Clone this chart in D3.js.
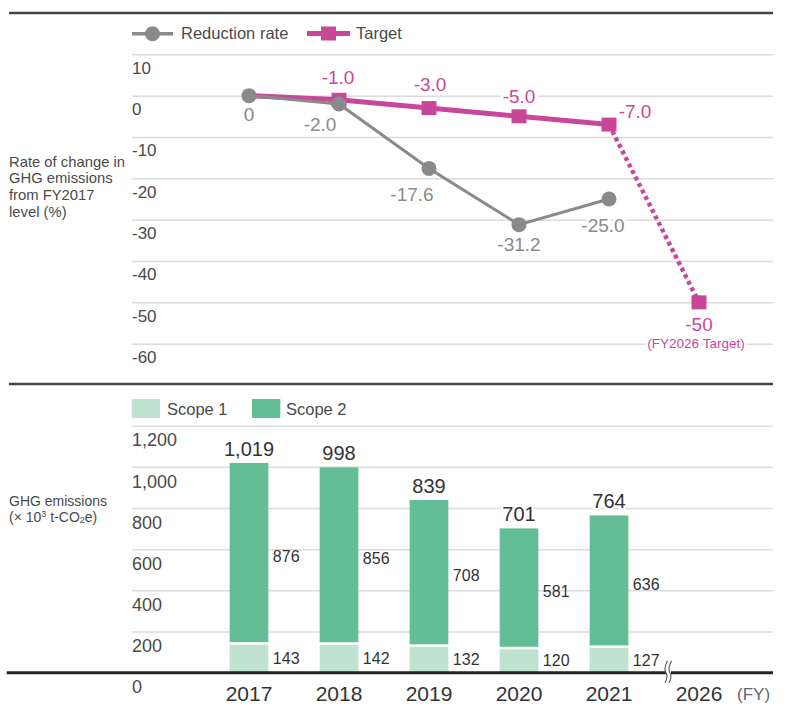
<!DOCTYPE html>
<html><head><meta charset="utf-8">
<script src="https://cdn.jsdelivr.net/npm/d3@7"></script>
<style>
body{margin:0;background:#fff}
text{font-family:"Liberation Sans",Arial,Helvetica,sans-serif}
</style>
</head><body>
<svg id="chart" width="788" height="720"></svg>
<script>
// ---------- DATA ----------
const years = ["2017","2018","2019","2020","2021","2026"];
const rateYears = ["2017","2018","2019","2020","2021"];
const reductionRate = [0, -2.0, -17.6, -31.2, -25.0];
const reductionLabels = ["0","-2.0","-17.6","-31.2","-25.0"];
const targetYears = ["2017","2018","2019","2020","2021"];
const targetRate = [0, -1.0, -3.0, -5.0, -7.0];
const targetLabels = ["", "-1.0", "-3.0", "-5.0", "-7.0"];
const finalTargetYear = "2026";
const finalTargetRate = -50;
const finalTargetLabel = "-50";
const finalTargetNote = "(FY2026 Target)";
const rateTicks = [10, 0, -10, -20, -30, -40, -50, -60];

const barYears = ["2017","2018","2019","2020","2021"];
const scope1 = [143, 142, 132, 120, 127];
const scope2 = [876, 856, 708, 581, 636];
const totals = [1019, 998, 839, 701, 764];
const emissionTicks = [0, 200, 400, 600, 800, 1000, 1200];

// ---------- LAYOUT ----------
const GRAY = "#8a8a8a", PINK = "#c9479b", S1 = "#bfe3d0", S2 = "#63be96";
const TXT = "#4a4a4a";
const gx0 = 132, gx1 = 773;
const redOff = [[0,19],[-19,20],[-17,26],[0,20],[-6,26]];
const tgtOff = [[0,0],[-1,-22.5],[1,-24],[0,-20],[26,-13]];

const svg = d3.select("#chart");
const x = d3.scalePoint().domain(years).range([249, 699]);
const yR = d3.scaleLinear().domain([10, -60]).range([54.3, 343.7]);
const yE = d3.scaleLinear().domain([0, 1200]).range([672.7, 425.7]);

function halo(sel, w){ return sel.attr("stroke","#fff").attr("stroke-width", w||6)
  .attr("stroke-linejoin","round").attr("paint-order","stroke"); }

// frame lines
svg.append("line").attr("x1",9).attr("x2",773).attr("y1",13).attr("y2",13)
  .attr("stroke","#444").attr("stroke-width",2.7);
svg.append("line").attr("x1",9).attr("x2",773).attr("y1",384).attr("y2",384)
  .attr("stroke","#444").attr("stroke-width",2.5);

// ---------- TOP CHART ----------
const ga = svg.append("g").attr("transform",`translate(${gx0},0)`)
  .call(d3.axisRight(yR).tickValues(rateTicks).tickSize(gx1-gx0).tickFormat(d=>String(d)));
ga.select(".domain").remove();
ga.selectAll(".tick line").attr("stroke","#dcdcdc").attr("stroke-width",1.5);
ga.selectAll(".tick text").attr("x",0).attr("y",13).attr("dy","0.35em")
  .attr("text-anchor","start").attr("fill",TXT).attr("font-size",17)
  .attr("font-family","'Liberation Sans',Arial,sans-serif");

// y title
const t1 = svg.append("text").attr("font-size",14.8).attr("fill",TXT);
["Rate of change in","GHG emissions","from FY2017","level (%)"].forEach((s,i)=>{
  t1.append("tspan").attr("x",9).attr("y",166.5+i*16.7).text(s);
});

// legend top
svg.append("line").attr("x1",132).attr("x2",173).attr("y1",33.7).attr("y2",33.7)
  .attr("stroke",GRAY).attr("stroke-width",3.5);
svg.append("circle").attr("cx",152.5).attr("cy",33.7).attr("r",7.5).attr("fill",GRAY);
svg.append("text").attr("x",181).attr("y",33.7).attr("dy","0.35em").attr("font-size",16.5)
  .attr("fill",TXT).text("Reduction rate");
svg.append("line").attr("x1",307).attr("x2",350).attr("y1",33.5).attr("y2",33.5)
  .attr("stroke",PINK).attr("stroke-width",5);
svg.append("rect").attr("x",321).attr("y",26.5).attr("width",15).attr("height",14).attr("fill",PINK);
svg.append("text").attr("x",356).attr("y",33.7).attr("dy","0.35em").attr("font-size",16.5)
  .attr("fill",TXT).text("Target");

// target line
const tgt = targetYears.map((yr,i)=>({yr, v:targetRate[i], lab:targetLabels[i], off:tgtOff[i]}));
const line = d3.line().x(d=>x(d.yr)).y(d=>yR(d.v));
svg.append("path").datum(tgt).attr("d",line).attr("fill","none")
  .attr("stroke",PINK).attr("stroke-width",5);
const fin = {yr:finalTargetYear, v:finalTargetRate};
svg.append("path").datum([tgt[tgt.length-1], fin]).attr("d",line).attr("fill","none")
  .attr("stroke",PINK).attr("stroke-width",4.5).attr("stroke-dasharray","4,3.3");
svg.selectAll("rect.tgt").data(tgt.slice(1).concat([fin])).enter().append("rect")
  .attr("class","tgt").attr("x",d=>x(d.yr)-7.5).attr("y",d=>yR(d.v)-7)
  .attr("width",15).attr("height",14).attr("fill",PINK);

// reduction line
const red = rateYears.map((yr,i)=>({yr, v:reductionRate[i], lab:reductionLabels[i], off:redOff[i]}));
svg.append("path").datum(red).attr("d",line).attr("fill","none")
  .attr("stroke",GRAY).attr("stroke-width",3);
svg.selectAll("circle.red").data(red).enter().append("circle").attr("class","red")
  .attr("cx",d=>x(d.yr)).attr("cy",d=>yR(d.v)).attr("r",7.5).attr("fill",GRAY);

// labels
svg.selectAll("text.redl").data(red).enter().append("text").attr("class","redl")
  .attr("x",d=>x(d.yr)+d.off[0]).attr("y",d=>yR(d.v)+d.off[1]).attr("dy","0.35em")
  .attr("text-anchor","middle").attr("font-size",19).attr("fill",GRAY)
  .text(d=>d.lab).call(halo);
svg.selectAll("text.tgtl").data(tgt.filter(d=>d.lab)).enter().append("text").attr("class","tgtl")
  .attr("x",d=>x(d.yr)+d.off[0]).attr("y",d=>yR(d.v)+d.off[1]).attr("dy","0.35em")
  .attr("text-anchor","middle").attr("font-size",19).attr("fill",PINK)
  .text(d=>d.lab).call(halo);
svg.append("text").attr("x",x(fin.yr)).attr("y",yR(fin.v)+22).attr("dy","0.35em")
  .attr("text-anchor","middle").attr("font-size",19).attr("fill",PINK).text(finalTargetLabel).call(halo);
svg.append("text").attr("x",x(fin.yr)-3).attr("y",yR(-60)).attr("dy","0.35em")
  .attr("text-anchor","middle").attr("font-size",13.5).attr("fill",PINK).text(finalTargetNote).call(halo,5);

// ---------- BOTTOM CHART ----------
const gb = svg.append("g").attr("transform",`translate(${gx0},0)`)
  .call(d3.axisRight(yE).tickValues(emissionTicks).tickSize(gx1-gx0).tickFormat(d3.format(",")));
gb.select(".domain").remove();
gb.selectAll(".tick line").attr("stroke","#dcdcdc").attr("stroke-width",1.5);
gb.selectAll(".tick text").attr("x",0).attr("y",14).attr("dy","0.35em")
  .attr("text-anchor","start").attr("fill",TXT).attr("font-size",18)
  .attr("font-family","'Liberation Sans',Arial,sans-serif");

const t2 = svg.append("text").attr("font-size",14).attr("fill",TXT);
t2.append("tspan").attr("x",9).attr("y",506).text("GHG emissions");
const l2 = svg.append("text").attr("font-size",14).attr("fill",TXT).attr("x",9).attr("y",522);
l2.append("tspan").text("(× 10");
l2.append("tspan").attr("font-size",9).attr("dy",-5).text("3");
l2.append("tspan").attr("dy",5).text(" t-CO");
l2.append("tspan").attr("font-size",9).attr("dy",1).text("2");
l2.append("tspan").attr("dy",-1).text("e)");

// legend bottom
svg.append("rect").attr("x",131.7).attr("y",399).attr("width",28.3).attr("height",19).attr("fill",S1);
svg.append("text").attr("x",167).attr("y",409).attr("dy","0.35em").attr("font-size",16.5).attr("fill",TXT).text("Scope 1");
svg.append("rect").attr("x",252).attr("y",399).attr("width",28.3).attr("height",19).attr("fill",S2);
svg.append("text").attr("x",286).attr("y",409).attr("dy","0.35em").attr("font-size",16.5).attr("fill",TXT).text("Scope 2");

const bw = 38.7;
const bars = barYears.map((yr,i)=>({yr, s1:scope1[i], s2:scope2[i], tot:totals[i]}));
const gbar = svg.append("g");
gbar.selectAll("rect.s1").data(bars).enter().append("rect").attr("class","s1")
  .attr("x",d=>x(d.yr)-bw/2).attr("width",bw)
  .attr("y",d=>yE(d.s1)+1.4).attr("height",d=>yE(0)-yE(d.s1)-1.4).attr("fill",S1);
gbar.selectAll("rect.s2").data(bars).enter().append("rect").attr("class","s2")
  .attr("x",d=>x(d.yr)-bw/2).attr("width",bw)
  .attr("y",d=>yE(d.tot)).attr("height",d=>yE(d.s1)-1.2-yE(d.tot)).attr("fill",S2);
gbar.selectAll("text.tot").data(bars).enter().append("text").attr("class","tot")
  .attr("x",d=>x(d.yr)).attr("y",d=>yE(d.tot)-14).attr("dy","0.35em")
  .attr("text-anchor","middle").attr("font-size",20).attr("fill","#333")
  .text(d=>d3.format(",")(d.tot)).call(halo,5);
gbar.selectAll("text.l2").data(bars).enter().append("text").attr("class","l2")
  .attr("x",d=>x(d.yr)+bw/2+4.5).attr("y",d=>(yE(d.tot)+yE(d.s1))/2+3).attr("dy","0.35em")
  .attr("font-size",16).attr("fill","#333").text(d=>d.s2);
gbar.selectAll("text.l1").data(bars).enter().append("text").attr("class","l1")
  .attr("x",d=>x(d.yr)+bw/2+4.5).attr("y",d=>(yE(0)+yE(d.s1))/2+0.5).attr("dy","0.35em")
  .attr("font-size",16).attr("fill","#333").text(d=>d.s1);

// baseline
svg.append("line").attr("x1",6.7).attr("x2",773).attr("y1",yE(0)).attr("y2",yE(0))
  .attr("stroke","#222").attr("stroke-width",3);
// axis break
const bx = x("2021") + (x("2026")-x("2021"))*0.655;
svg.append("rect").attr("x",bx-2).attr("y",yE(0)-4).attr("width",5).attr("height",8).attr("fill","#fff");
[0,4].forEach(dx=>{
  const cx = bx-2+dx;
  svg.append("path").attr("d",`M${cx+1.5},${yE(0)-12} Q${cx-2.5},${yE(0)-4} ${cx},${yE(0)} T${cx-1},${yE(0)+10}`)
    .attr("fill","none").attr("stroke","#555").attr("stroke-width",1.1);
});

// x labels
svg.selectAll("text.xl").data(years).enter().append("text").attr("class","xl")
  .attr("x",d=>x(d)).attr("y",694).attr("dy","0.35em").attr("text-anchor","middle")
  .attr("font-size",21).attr("fill","#333").text(d=>d);
svg.append("text").attr("x",737).attr("y",694).attr("dy","0.35em").attr("font-size",17)
  .attr("fill","#666").text("(FY)");
</script>
</body></html>
